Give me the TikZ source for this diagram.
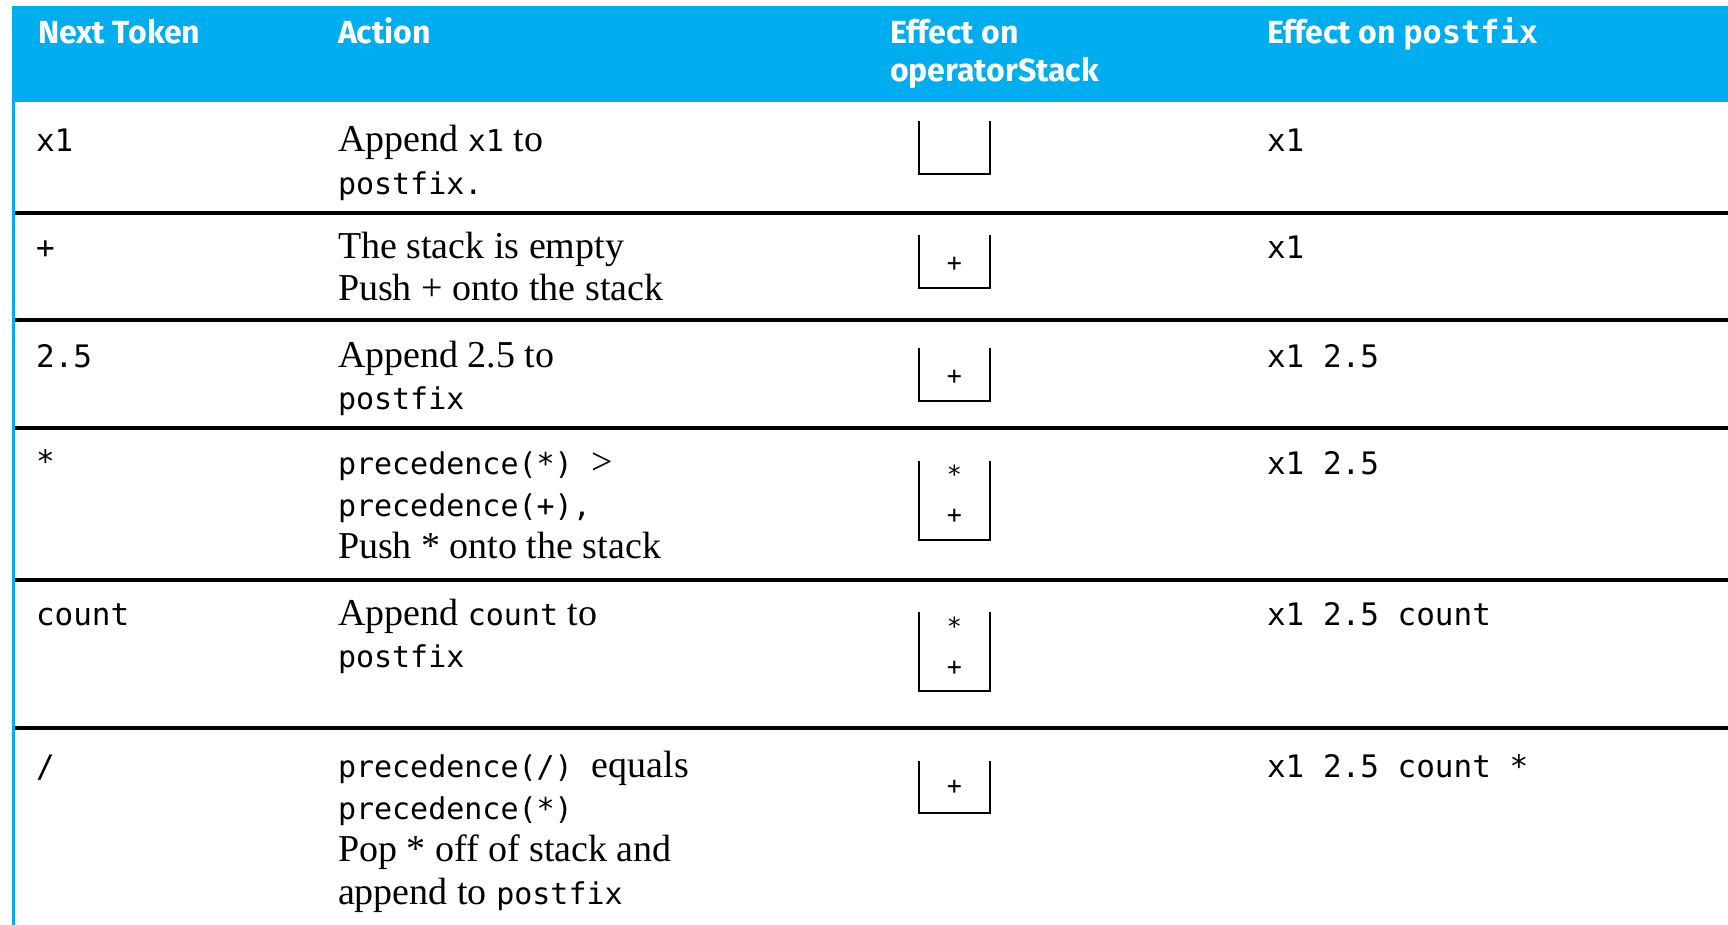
\documentclass[tikz,border=0pt]{standalone}
\usepackage{fontspec}
\setmainfont{Liberation Serif}
\newfontfamily\codefont{DejaVu Sans Mono}
\newfontfamily\headfont{Fira Sans}
\usetikzlibrary{positioning}
\definecolor{headblue}{RGB}{0,174,239}
\newcommand\tk[1]{{\codefont\fontsize{15}{21.2}\selectfont #1}}

\begin{document}
\begin{tikzpicture}
[x=0.5pt,y=-0.5pt,
every node/.style={inner sep=0pt,outer sep=0pt},
head/.style={anchor=base west,text=white,align=left,
  font=\headfont\bfseries\fontsize{16}{19}\selectfont},
tok/.style={anchor=base west,font=\codefont\fontsize{15.5}{21.2}\selectfont},
act/.style={anchor=base west,align=left,font=\fontsize{19}{21.2}\selectfont},
sym/.style={font=\codefont\fontsize{12.5}{12.5}\selectfont},
rowline/.style={line width=2pt},
stackbox/.style={line width=1.4pt}]
\useasboundingbox (0,0) rectangle (1728,925);
% header band and left border
\fill[headblue] (12,6) rectangle (1728,102);
\fill[headblue] (12,6) rectangle (15,925);
\node[head] (htok) at (38,44) {Next Token};
\node[head] (hact) at (338,44) {Action};
\node[head] (hstack) at (890,82) {Effect on\\operatorStack};
\node[head] (hpost) at (1267,44) {Effect on {\codefont\bfseries postfix}};
% row separators
\foreach \y in {213,320,428,580,728}
  \draw[rowline] (15,\y) -- (1728,\y);
% first column
\node[tok] (tok1) at (36,152) {x1};
\node[tok] (tok2) at (36,258) {+};
\node[tok] (tok3) at (36,367) {2.5};
\node[tok] (tok4) at (36,472) {*};
\node[tok] (tok5) at (36,625) {count};
\node[tok] (tok6) at (36,777) {/};
% actions (placed at the baseline of their last line)
\node[act] (act1) at (338,194.4) {Append \tk{x1} to\\\tk{postfix.}};
\node[act] (act2) at (338,300.4) {The stack is empty\\Push + onto the stack};
\node[act] (act3) at (338,409.4) {Append 2.5 to\\\tk{postfix}};
\node[act] (act4) at (338,558.8) {\tk{precedence(*)}~~>\\\tk{precedence(+),}\\Push * onto the stack};
\node[act] (act5) at (338,667.4) {Append \tk{count} to\\\tk{postfix}};
\node[act] (act6) at (338,904.2) {\tk{precedence(/)}~~equals\\\tk{precedence(*)}\\Pop * off of stack and\\append to \tk{postfix}};
% operator stack
\foreach \t/\b in {121/174,235/288,348/401,461/540,612/691,761/813}
  \draw[stackbox] (919,\t) |- (990,\b) -- (990,\t);
\node[sym] (s2) at (954.5,264) {+};
\node[sym] (s3) at (954.5,377) {+};
\node[sym] (s4a) at (954.5,474) {*};
\node[sym] (s4b) at (954.5,516) {+};
\node[sym] (s5a) at (954.5,626) {*};
\node[sym] (s5b) at (954.5,668) {+};
\node[sym] (s6) at (954.5,787) {+};
% postfix
\node[tok] (post1) at (1267,152) {x1};
\node[tok] (post2) at (1267,258) {x1};
\node[tok] (post3) at (1267,367) {x1 2.5};
\node[tok] (post4) at (1267,474) {x1 2.5};
\node[tok] (post5) at (1267,625) {x1 2.5 count};
\node[tok] (post6) at (1267,777) {x1 2.5 count *};
\end{tikzpicture}
\end{document}
